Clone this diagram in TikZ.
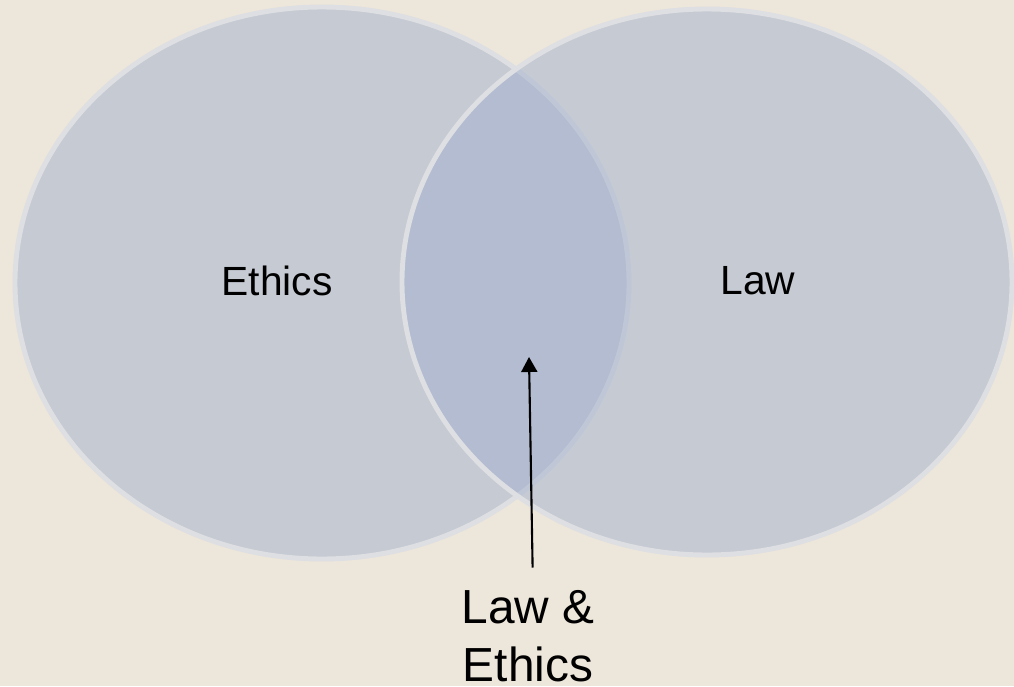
\documentclass[tikz,border=0pt]{standalone}
\usepackage{fontspec}
\setmainfont{Liberation Sans}
\usetikzlibrary{positioning, arrows.meta}
\definecolor{bgbeige}{RGB}{237,230,218}
\definecolor{vennblue}{RGB}{161,176,206}
\definecolor{vennrim}{RGB}{222,223,226}

\begin{document}
\begin{tikzpicture}[x=0.025cm, y=-0.025cm,
  set/.style={fill=vennblue, fill opacity=0.5, draw=vennrim, line width=3.5pt},
  lbl/.style={font=\fontsize{29}{38}\selectfont, inner sep=0pt},
  biglbl/.style={font=\fontsize{34}{41}\selectfont, align=center, inner sep=0pt}]
\fill[bgbeige] (0,0) rectangle (1014,686);
\useasboundingbox (0,0) rectangle (1014,686);

\draw[set] (322,283) ellipse [x radius=307, y radius=276];
\draw[set] (707,282) ellipse [x radius=305, y radius=273];

\node[lbl, anchor=base] (ethics) at (277,295) {Ethics};
\node[lbl, anchor=base] (law) at (758,294) {Law};
\node[biglbl, anchor=north] (both) at (528,590) {Law \&\\Ethics};
\coordinate (overlap) at (529,357);

\draw[-{Triangle[length=0.375cm, width=0.4cm]}, line width=1.5pt, shorten <=16pt]
  (both.north -| 533,0) -- (overlap);
\end{tikzpicture}
\end{document}
